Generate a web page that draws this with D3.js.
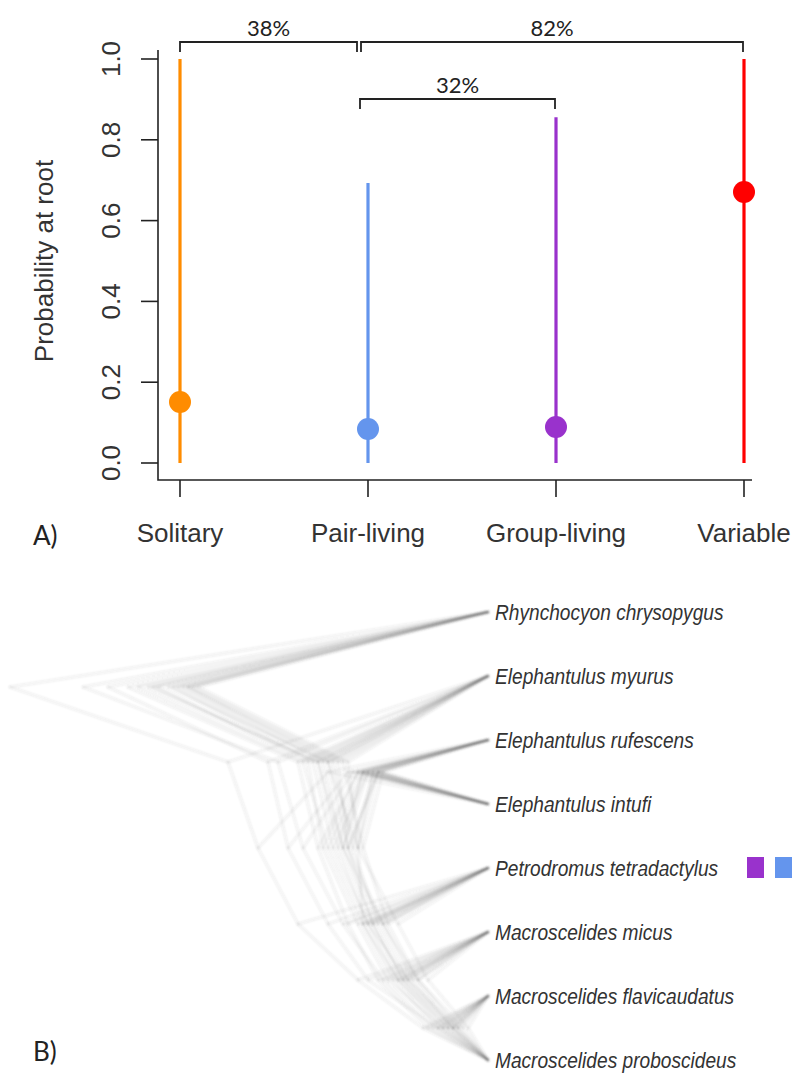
<!DOCTYPE html>
<html>
<head>
<meta charset="utf-8">
<script src="https://cdn.jsdelivr.net/npm/d3@7"></script>
<style>
  html, body { margin: 0; padding: 0; background: #fff; }
  svg { display: block; }
</style>
</head>
<body>
<svg id="chart" width="798" height="1073"></svg>
<script>
// ---------- Panel A data ----------
const categories = ["Solitary", "Pair-living", "Group-living", "Variable"];
const meanProb   = [0.151, 0.084, 0.089, 0.671];
const lowerProb  = [0.0, 0.0, 0.0, 0.0];
const upperProb  = [1.0, 0.693, 0.856, 1.0];
const catColors  = ["#FF8C00", "#6495ED", "#9932CC", "#FF0000"];
const yTicks     = [0.0, 0.2, 0.4, 0.6, 0.8, 1.0];
const bracketFrom   = ["Solitary", "Pair-living", "Pair-living"];
const bracketTo     = ["Pair-living", "Variable", "Group-living"];
const bracketLabels = ["38%", "82%", "32%"];
const bracketLevel  = [0, 0, 1];

// ---------- Panel B data ----------
const species = ["Rhynchocyon chrysopygus", "Elephantulus myurus", "Elephantulus rufescens",
  "Elephantulus intufi", "Petrodromus tetradactylus", "Macroscelides micus",
  "Macroscelides flavicaudatus", "Macroscelides proboscideus"];
// topology: (R,(my,((ru,in),(Pe,(mi,(fl,pr))))))  internal nodes N1..N7
const nodeNames = ["N1", "N2", "N3", "N4", "N5", "N6", "N7"];
const nodeChildren = [
  ["Rhynchocyon chrysopygus", "N2"],
  ["Elephantulus myurus", "N3"],
  ["N4", "N5"],
  ["Elephantulus rufescens", "Elephantulus intufi"],
  ["Petrodromus tetradactylus", "N6"],
  ["Macroscelides micus", "N7"],
  ["Macroscelides flavicaudatus", "Macroscelides proboscideus"]
];
// node depths (age units) for each posterior tree: N1..N7
const treeDepths = [
  [31.0, 16.5, 14.5, 12.0, 11.5, 8.5, 3.5],
  [30.0, 15.5, 13.5, 11.5, 11.0, 8.0, 3.0],
  [34.0, 17.0, 15.0, 12.5, 12.0, 9.0, 4.0],
  [30.5, 16.0, 14.0, 11.0, 10.5, 7.5, 3.5],
  [33.0, 18.0, 16.5, 13.0, 13.0, 10.0, 4.5],
  [35.0, 18.5, 16.0, 12.5, 12.5, 9.5, 5.0],
  [29.5, 14.5, 12.5, 10.5, 10.0, 7.0, 3.0],
  [40.5, 21.0, 18.5, 13.5, 14.5, 10.5, 5.5],
  [47.8, 26.0, 23.0, 16.0, 19.0, 13.0, 6.5],
  [32.0, 16.0, 13.0, 11.5, 9.0, 6.0, 2.0],
  [36.0, 19.0, 17.0, 13.0, 14.0, 11.0, 6.0],
  [31.5, 17.5, 15.5, 12.0, 12.0, 8.0, 3.5],
  [38.0, 22.0, 20.0, 14.0, 16.0, 12.0, 5.0],
  [30.0, 15.0, 14.0, 11.0, 11.5, 8.5, 4.0],
  [33.5, 17.0, 14.5, 12.5, 10.5, 7.0, 2.5],
  [29.0, 14.0, 13.0, 11.0, 12.5, 9.0, 4.5]
];
const tipStateSpecies = ["Petrodromus tetradactylus", "Petrodromus tetradactylus"];
const tipStates = ["Group-living", "Pair-living"];

// ---------- Drawing ----------
const svg = d3.select("#chart");
const AX = "Liberation Sans, Arial, sans-serif";
const CAL = "Lato, 'Open Sans', sans-serif";

const defs = svg.append("defs");
defs.append("filter").attr("id", "soft").attr("x", "-5%").attr("y", "-5%")
  .attr("width", "110%").attr("height", "110%")
  .append("feGaussianBlur").attr("stdDeviation", 0.9);

const x = d3.scalePoint().domain(categories).range([180, 744]);
const y = d3.scaleLinear().domain([0, 1]).range([463, 59]);
const frameLeft = 158, frameRight = 752, frameTop = 50, frameBottom = 480;

const gA = svg.append("g");

// frame (L-shaped)
gA.append("path")
  .attr("d", `M${frameLeft},${frameTop}V${frameBottom}H${frameRight}`)
  .attr("fill", "none").attr("stroke", "#222").attr("stroke-width", 1.6);

// y ticks
const yAxisG = gA.append("g").attr("transform", `translate(${frameLeft},0)`);
yAxisG.selectAll("line").data(yTicks).join("line")
  .attr("x1", -17).attr("x2", 0)
  .attr("y1", d => y(d)).attr("y2", d => y(d))
  .attr("stroke", "#222").attr("stroke-width", 1.6);
yAxisG.selectAll("text").data(yTicks).join("text")
  .attr("transform", d => `translate(-38,${y(d)}) rotate(-90)`)
  .attr("text-anchor", "middle")
  .attr("font-family", AX).attr("font-size", 26).attr("fill", "#333")
  .text(d => d3.format(".1f")(d));

// y title
gA.append("text")
  .attr("transform", `translate(53,${y(0.5)}) rotate(-90)`)
  .attr("text-anchor", "middle")
  .attr("font-family", AX).attr("font-size", 26).attr("fill", "#333")
  .text("Probability at root");

// x ticks & labels
const xAxisG = gA.append("g").attr("transform", `translate(0,${frameBottom})`);
xAxisG.selectAll("line").data(categories).join("line")
  .attr("x1", d => x(d)).attr("x2", d => x(d))
  .attr("y1", 0).attr("y2", 17)
  .attr("stroke", "#222").attr("stroke-width", 1.6);
xAxisG.selectAll("text").data(categories).join("text")
  .attr("x", d => x(d)).attr("y", 62)
  .attr("text-anchor", "middle")
  .attr("font-family", AX).attr("font-size", 26).attr("fill", "#333")
  .text(d => d);

// error lines and points
const rows = categories.map((c, i) => ({c, m: meanProb[i], lo: lowerProb[i], hi: upperProb[i], col: catColors[i]}));
gA.selectAll("line.err").data(rows).join("line").attr("class", "err")
  .attr("x1", d => x(d.c)).attr("x2", d => x(d.c))
  .attr("y1", d => y(d.lo)).attr("y2", d => y(d.hi))
  .attr("stroke", d => d.col).attr("stroke-width", 3.2);
gA.selectAll("circle.pt").data(rows).join("circle").attr("class", "pt")
  .attr("cx", d => x(d.c)).attr("cy", d => y(d.m)).attr("r", 11)
  .attr("fill", d => d.col);

// brackets
const brY = [42, 99];
const brackets = bracketFrom.map((f, i) => ({f, t: bracketTo[i], label: bracketLabels[i], lvl: bracketLevel[i]}));
function bx(name, isLeftEnd, lvl) {
  // the shared Pair-living end sits slightly left of the tick in the original figure
  let v = x(name);
  if (name === "Pair-living") v += (lvl === 0 ? (isLeftEnd ? -7 : -11) : -8);
  if (name === "Variable") v -= 1;
  if (name === "Group-living") v -= 1;
  return v;
}
brackets.forEach(b => {
  const x1 = bx(b.f, true, b.lvl), x2 = bx(b.t, false, b.lvl);
  const by = brY[b.lvl];
  gA.append("path")
    .attr("d", `M${x1},${by + 10}V${by}H${x2}V${by + 10}`)
    .attr("fill", "none").attr("stroke", "#222").attr("stroke-width", 1.8);
  gA.append("text")
    .attr("x", (x1 + x2) / 2).attr("y", by - 6)
    .attr("text-anchor", "middle")
    .attr("font-family", CAL).attr("font-size", 22).attr("fill", "#222")
    .text(b.label);
});

// panel labels
svg.append("text").attr("x", 33).attr("y", 545)
  .attr("font-family", CAL).attr("font-size", 26).attr("fill", "#222").text("A)");
svg.append("text").attr("x", 33).attr("y", 1061)
  .attr("font-family", CAL).attr("font-size", 26).attr("fill", "#222").text("B)");

// ---------- Panel B: densitree ----------
const gB = svg.append("g");
const ty = d3.scalePoint().domain(species).range([612, 1060]);
const tx = d3.scaleLinear().domain([0, 47.8]).range([488, 10]);

// node y = mean of children y (cladogram layout)
const nodeY = {};
species.forEach(s => nodeY[s] = ty(s));
for (let i = nodeNames.length - 1; i >= 0; i--) {
  const ch = nodeChildren[i];
  nodeY[nodeNames[i]] = d3.mean(ch, c => nodeY[c]);
}

const edges = [];
treeDepths.forEach((depths, ti) => {
  const depthOf = {};
  species.forEach(s => depthOf[s] = 0);
  nodeNames.forEach((n, i) => depthOf[n] = depths[i]);
  nodeNames.forEach((n, i) => {
    nodeChildren[i].forEach(c => {
      edges.push({x1: tx(depthOf[n]), y1: nodeY[n], x2: tx(depthOf[c]), y2: nodeY[c]});
    });
  });
});
gB.append("g").attr("filter", "url(#soft)")
  .selectAll("line.edge").data(edges).join("line").attr("class", "edge")
  .attr("x1", d => d.x1).attr("y1", d => d.y1)
  .attr("x2", d => d.x2).attr("y2", d => d.y2)
  .attr("stroke", "#444").attr("stroke-opacity", 0.075)
  .attr("stroke-width", 2.6).attr("stroke-linecap", "round");

// tip labels
const tipG = gB.selectAll("g.tip").data(species).join("g").attr("class", "tip")
  .attr("transform", d => `translate(495,${ty(d)}) scale(0.85,1)`);
tipG.append("text")
  .attr("dominant-baseline", "central")
  .attr("font-family", AX).attr("font-style", "italic").attr("font-size", 22.5)
  .attr("fill", "#333")
  .text(d => d);

// tip state squares
const sq = tipStateSpecies.map((s, i) => ({s, state: tipStates[i], i}));
gB.selectAll("rect.state").data(sq).join("rect").attr("class", "state")
  .attr("x", d => 747 + d.i * 28).attr("y", d => ty(d.s) - 11)
  .attr("width", 17).attr("height", 21)
  .attr("fill", d => catColors[categories.indexOf(d.state)]);
</script>
</body>
</html>
